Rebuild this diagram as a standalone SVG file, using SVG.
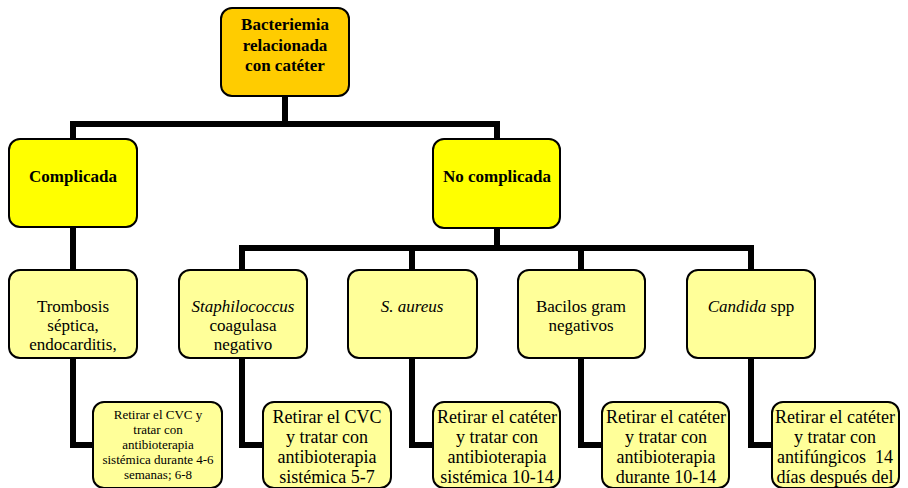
<svg xmlns="http://www.w3.org/2000/svg" width="908" height="488" viewBox="0 0 908 488">
<style>
.box{stroke:#000;stroke-width:2}
.b0{fill:#FFCC00}
.b1{fill:#FFFF00}
.b2{fill:#FFFF99}
.conn{fill:none;stroke:#000;stroke-width:6;stroke-linejoin:miter;stroke-linecap:butt}
</style>
<g id="connectors">
<path class="conn" d="M285,96 V124"/>
<path class="conn" d="M73,139 V124 H497 V139"/>
<path class="conn" d="M497,228 V248"/>
<path class="conn" d="M242,270 V248 H751 V270"/>
<path class="conn" d="M412,248 V270"/>
<path class="conn" d="M581,248 V270"/>
<path class="conn" d="M73,227 V270"/>
<path class="conn" d="M73,358 V445 H93"/>
<path class="conn" d="M242,358 V445 H263"/>
<path class="conn" d="M412,358 V445 H433"/>
<path class="conn" d="M581,358 V445 H602"/>
<path class="conn" d="M751,358 V445 H772"/>
</g>
<g font-family="Liberation Serif" text-anchor="middle" fill="#000">
<g id="root" font-weight="bold" font-size="17">
<rect class="box b0" x="221" y="8" width="128" height="88" rx="11"/>
<text x="285" y="30">Bacteriemia</text>
<text x="285" y="51">relacionada</text>
<text x="285" y="71">con catéter</text>
</g>
<g id="complicada" font-weight="bold" font-size="17">
<rect class="box b1" x="9" y="139" width="128" height="88" rx="11"/>
<text x="73" y="182">Complicada</text>
</g>
<g id="no-complicada" font-weight="bold" font-size="17">
<rect class="box b1" x="433" y="139" width="127" height="89" rx="11"/>
<text x="497" y="182">No complicada</text>
</g>
<g id="trombosis" font-size="17">
<rect class="box b2" x="9" y="270" width="128" height="88" rx="11"/>
<text x="73" y="312">Trombosis</text>
<text x="73" y="331">séptica,</text>
<text x="73" y="350">endocarditis,</text>
</g>
<g id="staphilococcus" font-size="17">
<rect class="box b2" x="179" y="270" width="128" height="88" rx="11"/>
<text x="243" y="312" font-style="italic">Staphilococcus</text>
<text x="243" y="331">coagulasa</text>
<text x="243" y="350">negativo</text>
</g>
<g id="saureus" font-size="17">
<rect class="box b2" x="348" y="270" width="129" height="88" rx="11"/>
<text x="412" y="312" font-style="italic">S. aureus</text>
</g>
<g id="bacilos" font-size="17">
<rect class="box b2" x="518" y="270" width="127" height="88" rx="11"/>
<text x="581" y="312">Bacilos gram</text>
<text x="581" y="331">negativos</text>
</g>
<g id="candida" font-size="17">
<rect class="box b2" x="687" y="270" width="128" height="88" rx="11"/>
<text x="751" y="312"><tspan font-style="italic">Candida</tspan> spp</text>
</g>
<g id="tx-complicada" font-size="13">
<rect class="box b2" x="93" y="402" width="129" height="86" rx="11"/>
<text x="158" y="419">Retirar el CVC y</text>
<text x="158" y="434">tratar con</text>
<text x="158" y="449">antibioterapia</text>
<text x="158" y="464">sistémica durante 4-6</text>
<text x="158" y="479">semanas; 6-8</text>
</g>
<g id="tx-staphilococcus" font-size="18">
<rect class="box b2" x="263" y="402" width="128" height="86" rx="11"/>
<text x="327" y="423">Retirar el CVC</text>
<text x="327" y="443">y tratar con</text>
<text x="327" y="463">antibioterapia</text>
<text x="327" y="483">sistémica 5-7</text>
</g>
<g id="tx-saureus" font-size="18">
<rect class="box b2" x="433" y="402" width="127" height="86" rx="11"/>
<text x="497" y="423">Retirar el catéter</text>
<text x="497" y="443">y tratar con</text>
<text x="497" y="463">antibioterapia</text>
<text x="497" y="483">sistémica 10-14</text>
</g>
<g id="tx-bacilos" font-size="18">
<rect class="box b2" x="602" y="402" width="127" height="86" rx="11"/>
<text x="666" y="423">Retirar el catéter</text>
<text x="666" y="443">y tratar con</text>
<text x="666" y="463">antibioterapia</text>
<text x="666" y="483">durante 10-14</text>
</g>
<g id="tx-candida" font-size="18">
<rect class="box b2" x="772" y="402" width="127" height="86" rx="11"/>
<text x="835" y="423">Retirar el catéter</text>
<text x="835" y="443">y tratar con</text>
<text x="835" y="463" xml:space="preserve">antifúngicos  14</text>
<text x="835" y="483">días después del</text>
</g>
</g>
</svg>
